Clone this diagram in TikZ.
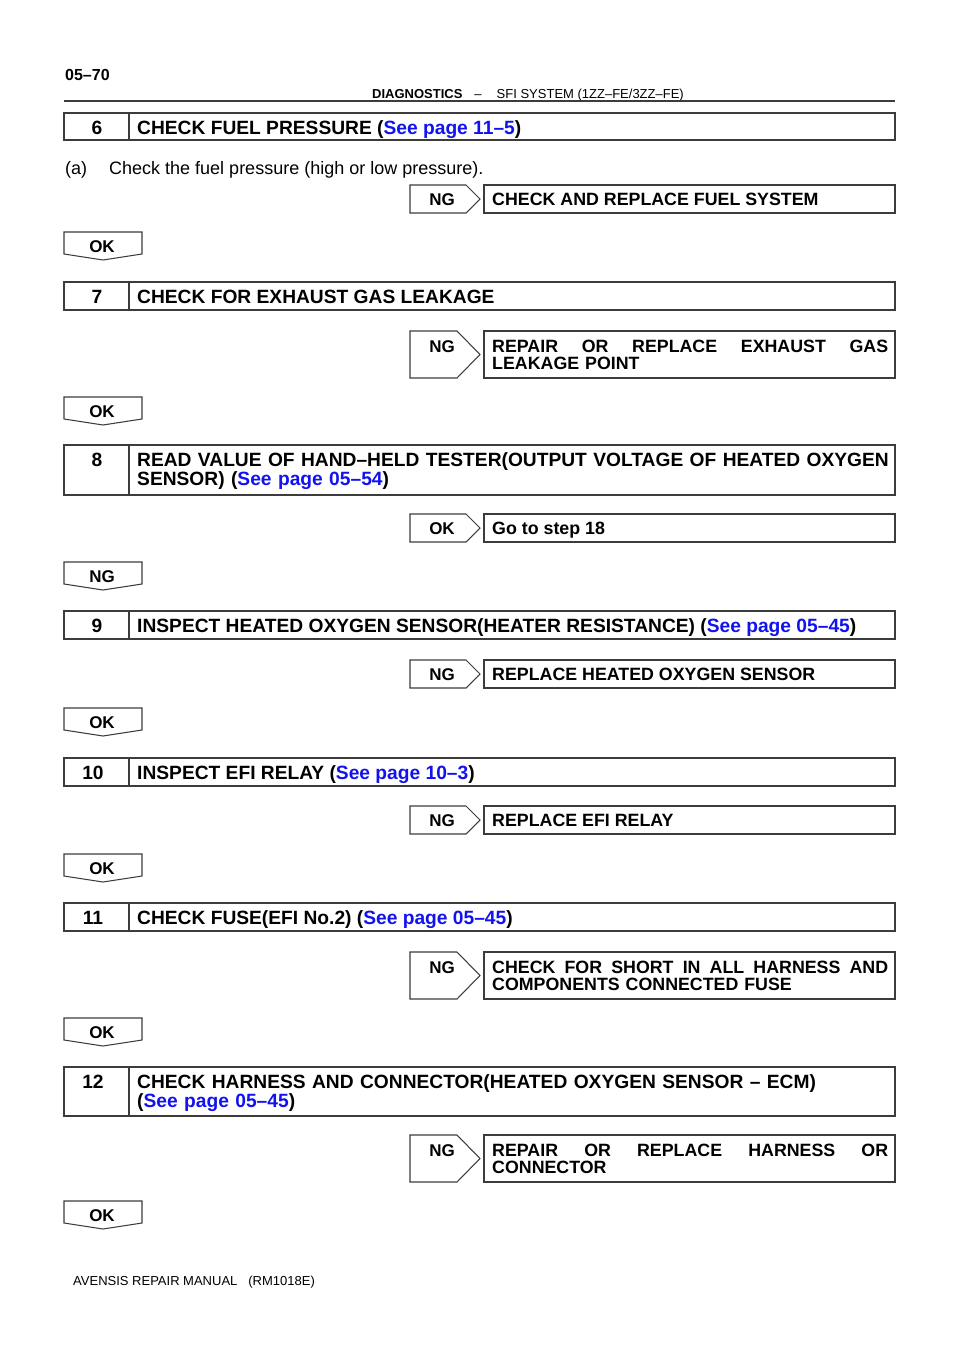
\documentclass[tikz,border=0pt]{standalone}
\usepackage{fontspec}
\setmainfont{Liberation Sans}
\usepackage{tikz}

\definecolor{linkblue}{RGB}{18,18,238}
\definecolor{edge}{RGB}{60,60,60}
\newcommand{\seepage}[1]{\textcolor{linkblue}{See page #1}}

\tikzset{
  frame/.style={draw=edge, line width=1.05pt},
  num/.style={anchor=base, inner sep=0pt, font=\fontsize{19.2}{19}\selectfont\bfseries},
  head/.style={anchor=base west, inner sep=0pt, font=\fontsize{19.2}{19}\selectfont\bfseries},
  headtwo/.style={head, text width=760pt},
  tag/.style={anchor=base, inner sep=0pt, font=\fontsize{17}{17}\selectfont\bfseries},
  action/.style={anchor=base west, inner sep=0pt, font=\fontsize{17.8}{17}\selectfont\bfseries},
  actiontwo/.style={action, text width=396pt},
  plain/.style={anchor=base west, inner sep=0pt, font=\fontsize{18}{18}\selectfont}
}

\begin{document}
\begin{tikzpicture}[x=1pt, y=-1pt]
    \useasboundingbox (0,0) rectangle (960,1358);

    % Page header:
    \node[anchor=base west, inner sep=0pt, font=\fontsize{16}{16}\selectfont\bfseries] (pageno) at (65,80) {05–70};
    \node[anchor=base west, inner sep=0pt, font=\fontsize{13}{13}\selectfont] (section) at (372,98)
      {\textbf{DIAGNOSTICS}\hspace{12pt}–\hspace{15pt}SFI SYSTEM (1ZZ–FE/3ZZ–FE)};
    \draw[line width=1.6pt, edge] (64,101) -- (895,101);

    % Step 6:
    \draw[frame] (64,113) rectangle (895,140);
    \draw[frame] (129,113) -- (129,140);
    \node[num] (n6) at (97,134) {6};
    \node[head] (s6) at (137,134) {CHECK FUEL PRESSURE (\seepage{11–5})};
    \node[plain] (a6) at (65,174) {(a)};
    \node[plain] (c6) at (109,174) {Check the fuel pressure (high or low pressure).};
    \draw[frame] (410,185) -- (466,185) -- (480,199) -- (466,213) -- (410,213) -- cycle;
    \draw[frame] (484,185) rectangle (895,213);
    \node[tag] (ng6) at (442,205) {NG};
    \node[action] (r6) at (492,205) {CHECK AND REPLACE FUEL SYSTEM};
    \draw[frame] (64,232) -- (142,232) -- (142,254) -- (103,260) -- (64,254) -- cycle;
    \node[tag] (ok6) at (102,252) {OK};

    % Step 7:
    \draw[frame] (64,282) rectangle (895,310);
    \draw[frame] (129,282) -- (129,310);
    \node[num] (n7) at (97,303) {7};
    \node[head] (s7) at (137,303) {CHECK FOR EXHAUST GAS LEAKAGE};
    \draw[frame] (410,331) -- (457,331) -- (480,354.5) -- (457,378) -- (410,378) -- cycle;
    \draw[frame] (484,331) rectangle (895,378);
    \node[tag] (ng7) at (442,352) {NG};
    \node[actiontwo] (r7) at (492,352)
      {\hbox to 396pt{REPAIR\hfill OR\hfill REPLACE\hfill EXHAUST\hfill GAS}\\LEAKAGE POINT};
    \draw[frame] (64,397) -- (142,397) -- (142,419) -- (103,425) -- (64,419) -- cycle;
    \node[tag] (ok7) at (102,417) {OK};

    % Step 8:
    \draw[frame] (64,445) rectangle (895,495);
    \draw[frame] (129,445) -- (129,495);
    \node[num] (n8) at (97,466) {8};
    \node[headtwo] (s8) at (137,466)
      {READ VALUE OF HAND–HELD TESTER(OUTPUT VOLTAGE OF HEATED OXYGEN\\SENSOR) (\seepage{05–54})};
    \draw[frame] (410,514) -- (466,514) -- (480,528) -- (466,542) -- (410,542) -- cycle;
    \draw[frame] (484,514) rectangle (895,542);
    \node[tag] (ok8) at (442,534) {OK};
    \node[action] (r8) at (492,534) {Go to step 18};
    \draw[frame] (64,562) -- (142,562) -- (142,584) -- (103,590) -- (64,584) -- cycle;
    \node[tag] (ng8) at (102,582) {NG};

    % Step 9:
    \draw[frame] (64,611) rectangle (895,639);
    \draw[frame] (129,611) -- (129,639);
    \node[num] (n9) at (97,632) {9};
    \node[head] (s9) at (137,632) {INSPECT HEATED OXYGEN SENSOR(HEATER RESISTANCE) (\seepage{05–45})};
    \draw[frame] (410,660) -- (466,660) -- (480,674) -- (466,688) -- (410,688) -- cycle;
    \draw[frame] (484,660) rectangle (895,688);
    \node[tag] (ng9) at (442,680) {NG};
    \node[action] (r9) at (492,680) {REPLACE HEATED OXYGEN SENSOR};
    \draw[frame] (64,708) -- (142,708) -- (142,730) -- (103,736) -- (64,730) -- cycle;
    \node[tag] (ok9) at (102,728) {OK};

    % Step 10:
    \draw[frame] (64,758) rectangle (895,786);
    \draw[frame] (129,758) -- (129,786);
    \node[num] (n10) at (93,779) {10};
    \node[head] (s10) at (137,779) {INSPECT EFI RELAY (\seepage{10–3})};
    \draw[frame] (410,806) -- (466,806) -- (480,820) -- (466,834) -- (410,834) -- cycle;
    \draw[frame] (484,806) rectangle (895,834);
    \node[tag] (ng10) at (442,826) {NG};
    \node[action] (r10) at (492,826) {REPLACE EFI RELAY};
    \draw[frame] (64,854) -- (142,854) -- (142,876) -- (103,882) -- (64,876) -- cycle;
    \node[tag] (ok10) at (102,874) {OK};

    % Step 11:
    \draw[frame] (64,903) rectangle (895,931);
    \draw[frame] (129,903) -- (129,931);
    \node[num] (n11) at (93,924) {11};
    \node[head] (s11) at (137,924) {CHECK FUSE(EFI No.2) (\seepage{05–45})};
    \draw[frame] (410,952) -- (457,952) -- (480,975.5) -- (457,999) -- (410,999) -- cycle;
    \draw[frame] (484,952) rectangle (895,999);
    \node[tag] (ng11) at (442,973) {NG};
    \node[actiontwo] (r11) at (492,973)
      {\hbox to 396pt{CHECK\hfill FOR\hfill SHORT\hfill IN\hfill ALL\hfill HARNESS\hfill AND}\\COMPONENTS CONNECTED FUSE};
    \draw[frame] (64,1018) -- (142,1018) -- (142,1040) -- (103,1046) -- (64,1040) -- cycle;
    \node[tag] (ok11) at (102,1038) {OK};

    % Step 12:
    \draw[frame] (64,1067) rectangle (895,1116);
    \draw[frame] (129,1067) -- (129,1116);
    \node[num] (n12) at (93,1088) {12};
    \node[headtwo] (s12) at (137,1088)
      {CHECK HARNESS AND CONNECTOR(HEATED OXYGEN SENSOR – ECM)\\(\seepage{05–45})};
    \draw[frame] (410,1135) -- (457,1135) -- (480,1158.5) -- (457,1182) -- (410,1182) -- cycle;
    \draw[frame] (484,1135) rectangle (895,1182);
    \node[tag] (ng12) at (442,1156) {NG};
    \node[actiontwo] (r12) at (492,1156)
      {\hbox to 396pt{REPAIR\hfill OR\hfill REPLACE\hfill HARNESS\hfill OR}\\CONNECTOR};
    \draw[frame] (64,1201) -- (142,1201) -- (142,1223) -- (103,1229) -- (64,1223) -- cycle;
    \node[tag] (ok12) at (102,1221) {OK};

    % Page footer:
    \node[anchor=base west, inner sep=0pt, font=\fontsize{13}{13}\selectfont] (manual) at (73,1285)
      {AVENSIS REPAIR MANUAL\hspace{11pt}(RM1018E)};
  \end{tikzpicture}
\end{document}
